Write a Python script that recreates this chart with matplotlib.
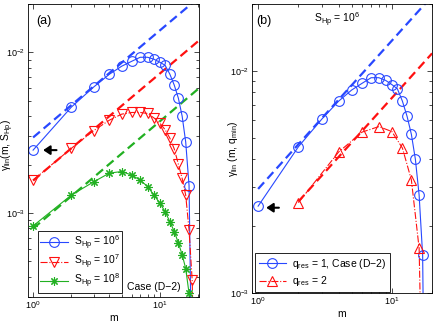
import matplotlib
matplotlib.use('Agg')
import matplotlib.pyplot as plt
from matplotlib.ticker import LogLocator, NullFormatter

plt.rcParams['font.family'] = ['Liberation Sans', 'DejaVu Sans']
plt.rcParams['mathtext.fontset'] = 'custom'
plt.rcParams['mathtext.rm'] = 'Liberation Sans'
plt.rcParams['mathtext.it'] = 'Liberation Sans:italic'
plt.rcParams['mathtext.default'] = 'regular'

# Данные (a): gamma_lin(m) для трёх S_Hp
m_s6 = [1, 2, 3, 4, 5, 6, 7, 8, 9, 10, 11, 12, 13, 14, 15, 16, 17, 18]
g_s6 = [2.46e-3, 4.55e-3, 6.07e-3, 7.30e-3, 8.19e-3, 8.79e-3, 9.31e-3, 9.31e-3, 9.05e-3,
        8.67e-3, 8.30e-3, 7.30e-3, 6.24e-3, 5.18e-3, 4.00e-3, 2.76e-3, 1.48e-3, 6e-5]
m_s7 = [1, 2, 3, 4, 5, 6, 7, 8, 9, 10, 11, 12, 13, 14, 15, 16, 17, 18, 19]
g_s7 = [1.60e-3, 2.52e-3, 3.25e-3, 3.78e-3, 4.12e-3, 4.22e-3, 4.22e-3, 4.16e-3, 3.90e-3,
        3.62e-3, 3.30e-3, 2.92e-3, 2.50e-3, 2.01e-3, 1.64e-3, 1.29e-3, 7.8e-4, 3.8e-4, 5e-5]
m_s8 = [1, 2, 3, 4, 5, 6, 7, 8, 9, 10, 11, 12, 13, 14, 15, 16, 17, 18]
g_s8 = [8.3e-4, 1.29e-3, 1.56e-3, 1.77e-3, 1.81e-3, 1.72e-3, 1.60e-3, 1.46e-3, 1.29e-3,
        1.15e-3, 1.02e-3, 8.8e-4, 7.66e-4, 6.5e-4, 5.5e-4, 4.5e-4, 3.16e-4, 5e-5]

# Асимптоты (концы прямых в log-log)
fit_m = [1, 20]
fit_s6 = [2.95e-3, 2.17e-2]
fit_s7 = [1.59e-3, 1.17e-2]
fit_s8 = [8.0e-4, 5.9e-3]

# Данные (b): q_res = 1 и q_res = 2
m_q1 = m_s6
g_q1 = g_s6
m_q2 = [2, 4, 6, 8, 10, 12, 14, 16, 18]
g_q2 = [2.55e-3, 4.31e-3, 5.30e-3, 5.61e-3, 5.33e-3, 4.49e-3, 3.23e-3, 1.59e-3, 5e-5]
fit_q1_m = [1, 20]
fit_q1 = [2.94e-3, 2.17e-2]
fit_q2_m = [2, 20]
fit_q2 = [2.58e-3, 1.198e-2]

blue = '#2848ff'
red = '#ff1010'
green = '#22b022'

fig = plt.figure(figsize=(4.36, 3.27), dpi=100)
ax1 = fig.add_axes([0.064, 0.092, 0.392, 0.896])
ax2 = fig.add_axes([0.578, 0.104, 0.413, 0.884])

def style_axes(ax):
    ax.set_xscale('log')
    ax.set_yscale('log')
    ax.xaxis.set_major_locator(LogLocator(base=10))
    ax.yaxis.set_major_locator(LogLocator(base=10))
    ax.xaxis.set_minor_locator(LogLocator(base=10, subs=range(2, 10)))
    ax.yaxis.set_minor_locator(LogLocator(base=10, subs=range(2, 10)))
    ax.xaxis.set_minor_formatter(NullFormatter())
    ax.yaxis.set_minor_formatter(NullFormatter())
    ax.tick_params(which='both', direction='in', top=True, right=True, width=0.5, labelsize=6.5, pad=2)
    ax.tick_params(which='major', length=3.5)
    ax.tick_params(which='minor', length=2)
    for s in ax.spines.values():
        s.set_linewidth(0.6)
    ax.set_xlabel('m', fontsize=7.5, labelpad=1)

lw_fit = 1.6
dash = (4, 2.2)
arrow = dict(arrowstyle='-|>,head_length=0.45,head_width=0.3', color='k', lw=1.5, mutation_scale=9,
             shrinkA=0, shrinkB=0)

# (a)
ax1.plot(fit_m, fit_s6, color=blue, lw=lw_fit, dashes=dash)
ax1.plot(fit_m, fit_s7, color=red, lw=lw_fit, dashes=dash)
ax1.plot(fit_m, fit_s8, color=green, lw=lw_fit, dashes=dash)
ax1.plot(m_s6, g_s6, '-', color=blue, lw=0.8, marker='o', ms=7, mfc='none', mew=0.8,
         label=r'S$_{Hp}$ = 10$^6$')
ax1.plot(m_s7, g_s7, '-.', color=red, lw=0.8, marker='v', ms=7, mfc='none', mew=0.8,
         label=r'S$_{Hp}$ = 10$^7$')
ax1.plot(m_s8, g_s8, '-', color=green, lw=0.8, marker=(8, 2, 0), ms=6, mew=0.8,
         label=r'S$_{Hp}$ = 10$^8$')
ax1.annotate('', xy=(1.2, 2.46e-3), xytext=(1.53, 2.46e-3), arrowprops=arrow)
style_axes(ax1)
ax1.set_xlim(0.91, 20.3)
ax1.set_ylim(3e-4, 2e-2)
ax1.set_ylabel(r'γ$_{lin}$(m, S$_{Hp}$)', fontsize=7.5)
ax1.yaxis.set_label_coords(-0.068, 0.52)
ax1.text(0.047, 0.942, '(a)', transform=ax1.transAxes, fontsize=9, va='center', ha='left')
ax1.text(0.578, 0.016, 'Case (D−2)', transform=ax1.transAxes, fontsize=7.5, va='bottom', ha='left')
leg1 = ax1.legend(loc='lower left', bbox_to_anchor=(0.058, 0.014), borderaxespad=0,
                  fontsize=7.5, handlelength=2.6, labelspacing=0.1, handletextpad=0.6,
                  borderpad=0.25, fancybox=False, edgecolor='k', framealpha=1)
leg1.get_frame().set_linewidth(0.6)

# (b)
ax2.plot(fit_q1_m, fit_q1, color=blue, lw=lw_fit, dashes=dash)
ax2.plot(fit_q2_m, fit_q2, color=red, lw=lw_fit, dashes=dash)
ax2.plot(m_q1, g_q1, '-', color=blue, lw=0.8, marker='o', ms=7, mfc='none', mew=0.8,
         label=r'q$_{res}$ = 1, Case (D−2)')
ax2.plot(m_q2, g_q2, '-.', color=red, lw=0.8, marker='^', ms=7, mfc='none', mew=0.8,
         label=r'q$_{res}$ = 2')
ax2.annotate('', xy=(1.15, 2.42e-3), xytext=(1.43, 2.42e-3), arrowprops=arrow)
style_axes(ax2)
ax2.set_xlim(0.9, 20)
ax2.set_ylim(1e-3, 2e-2)
ax2.set_ylabel(r'γ$_{lin}$ (m, q$_{min}$)', fontsize=7.5)
ax2.yaxis.set_label_coords(-0.067, 0.5)
ax2.text(0.022, 0.94, '(b)', transform=ax2.transAxes, fontsize=9, va='center', ha='left')
ax2.text(0.344, 0.945, r'S$_{Hp}$ = 10$^6$', transform=ax2.transAxes, fontsize=7.5, va='center', ha='left')
leg2 = ax2.legend(loc='lower left', bbox_to_anchor=(0.017, 0.004), borderaxespad=0,
                  fontsize=7.5, handlelength=2.6, labelspacing=0.35, handletextpad=0.6,
                  borderpad=0.35, fancybox=False, edgecolor='k', framealpha=1)
leg2.get_frame().set_linewidth(0.6)

plt.savefig('out.png', dpi=100)
plt.close()
